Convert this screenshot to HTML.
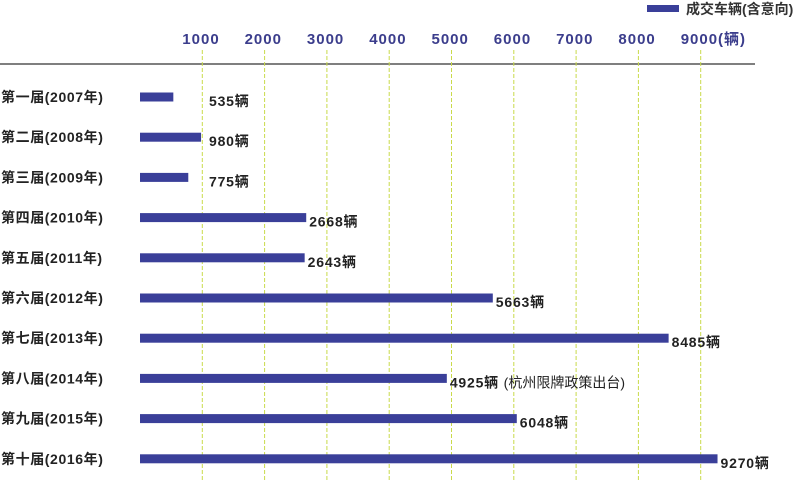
<!DOCTYPE html>
<html><head><meta charset="utf-8"><style>
body{margin:0;background:#fff;}
svg{display:block;font-family:"Liberation Sans","Noto Sans CJK SC",sans-serif;font-weight:bold;}
</style></head><body>
<svg id="chart" width="800" height="480">
<rect x="647" y="5" width="32" height="7" fill="#3a3f99"/>
<text x="686" y="14" font-size="14" fill="#333">成交车辆(含意向)</text>
<line x1="0" y1="64" x2="755" y2="64" stroke="#333" stroke-width="1.2"/>
<g id="grid"></g><g id="ticks"></g><g id="bars"></g>
</svg>
<script>
const categories=["第一届(2007年)","第二届(2008年)","第三届(2009年)","第四届(2010年)","第五届(2011年)","第六届(2012年)","第七届(2013年)","第八届(2014年)","第九届(2015年)","第十届(2016年)"];
const values=[535,980,775,2668,2643,5663,8485,4925,6048,9270];
const notes=["","","","","","","","(杭州限牌政策出台)","",""];
const tickValues=[1000,2000,3000,4000,5000,6000,7000,8000,9000];
const tickLabels=["1000","2000","3000","4000","5000","6000","7000","8000","9000(辆)"];
const NS="http://www.w3.org/2000/svg";
function x(v){return 140+v*0.0623;}
function y(i){return 97+i*40.2;}
function mk(t,a,p){const e=document.createElementNS(NS,t);for(const k in a)e.setAttribute(k,a[k]);p.appendChild(e);return e;}
const grid=document.getElementById('grid'),ticks=document.getElementById('ticks'),bars=document.getElementById('bars');
tickValues.forEach((v,i)=>{
 const l=mk('line',{x1:x(v),x2:x(v),y1:50,y2:480,stroke:'#c9da4a','stroke-width':1,'stroke-dasharray':'4,2'},grid);
 
 
 const t=mk('text',{x:x(v)-20,y:44,'font-size':15,'letter-spacing':1,fill:'#3b3d8c'},ticks);
 t.textContent=tickLabels[i];
 
 
});
categories.forEach((c,i)=>{
 const cl=mk('text',{x:1,y:y(i)+5,'font-size':14,'letter-spacing':0.6,fill:'#222'},bars);
 cl.textContent=c;
 
 
 const b=mk('rect',{x:x(0),y:y(i)-4.5,width:x(values[i])-x(0),height:9,fill:'#3a3f99'},bars);
 
 
 const lx=Math.max(x(values[i])+3,209);
 const vl=mk('text',{x:lx,y:y(i)+9,'font-size':14,'letter-spacing':0.8,fill:'#222'},bars);
 vl.textContent=values[i]+'辆'+(notes[i]?' ':'');
 
 
 if(notes[i]){const n=mk('tspan',{'font-weight':'normal','letter-spacing':0},vl);n.textContent=notes[i];}
});
</script>
</body></html>
